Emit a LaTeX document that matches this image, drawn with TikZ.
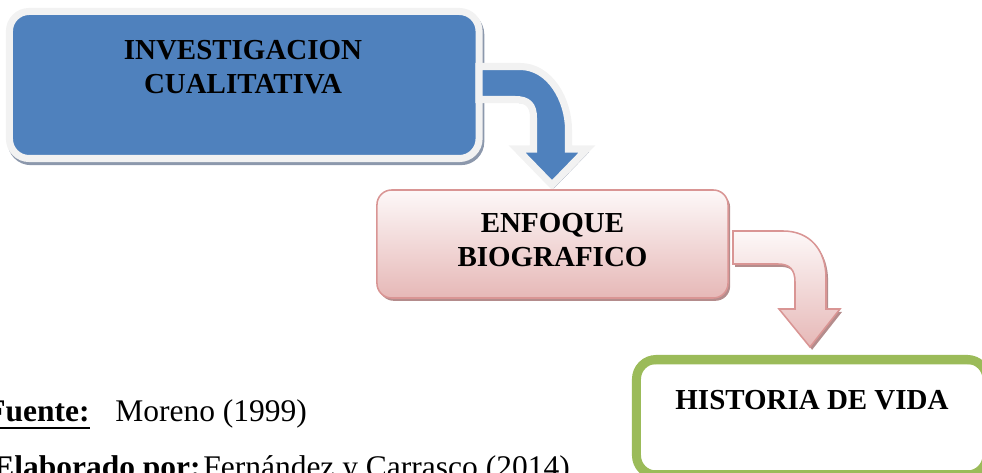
\documentclass[tikz,border=0pt]{standalone}
\usepackage{fontspec}
\setmainfont{Liberation Serif}
\usetikzlibrary{positioning,calc}

\definecolor{azulcaja}{RGB}{79,129,189}
\definecolor{bordeblanco}{RGB}{242,242,242}
\definecolor{sombraazul}{RGB}{140,152,172}
\definecolor{linearosa}{RGB}{217,149,148}
\definecolor{rosaclaro}{RGB}{253,248,248}
\definecolor{rosaoscuro}{RGB}{230,184,183}
\definecolor{sombrarosa}{RGB}{180,140,140}
\definecolor{verdecaja}{RGB}{155,187,89}

\begin{document}
\begin{tikzpicture}[x=0.025cm, y=0.025cm,
    cajaazul/.style={rounded corners=14pt, inner sep=0pt, fill=azulcaja, draw=bordeblanco, line width=5pt,
      preaction={draw=sombraazul, fill=sombraazul, transform canvas={xshift=1.2pt, yshift=-2.2pt}}},
    flechaazul/.style={fill=azulcaja, draw=bordeblanco, line width=5pt,
      preaction={draw=sombraazul, fill=sombraazul, transform canvas={xshift=1.2pt, yshift=-2.2pt}}},
    cajarosa/.style={rounded corners=10.5pt, inner sep=0pt, draw=linearosa, line width=1.1pt,
      top color=rosaclaro, bottom color=rosaoscuro,
      preaction={fill=sombrarosa, transform canvas={xshift=1.5pt, yshift=-2pt}}},
    flecharosa/.style={draw=linearosa, line width=1.1pt, top color=rosaclaro, bottom color=rosaoscuro,
      preaction={fill=sombrarosa, transform canvas={xshift=1.5pt, yshift=-2pt}}},
    cajaverde/.style={rounded corners=14pt, inner sep=0pt, draw=verdecaja, line width=6.4pt, fill=white},
    textocaja/.style={inner sep=0pt, align=center, font=\fontsize{20.6pt}{24.2pt}\selectfont\bfseries},
    nota/.style={anchor=base west, inner sep=0pt, font=\fontsize{22.4pt}{26pt}\selectfont},
    notanegrita/.style={nota, font=\fontsize{22.4pt}{26pt}\selectfont\bfseries}]

  \path[use as bounding box, clip] (0,0) rectangle (982,473);

  % Investigacion cualitativa
  \node[cajaazul, minimum width=11.7375cm, minimum height=3.675cm] (inv) at (244.25,388) {};
  \node[textocaja, anchor=north] (invtxt) at (243,433) {INVESTIGACION\\CUALITATIVA};

  % Flecha azul
  \draw[flechaazul] (479,406.5) -- (520,406.5) .. controls (550,406.5) and (568.5,373) .. (568.5,343)
    -- (568.5,324) -- (587,324) -- (552,288) -- (517,324) -- (533.5,324) -- (533.5,355)
    .. controls (533.5,368) and (528,373.5) .. (515,373.5) -- (479,373.5) -- cycle;

  % Enfoque biografico
  \node[cajarosa, minimum width=8.775cm, minimum height=2.7cm] (enf) at (552.5,229) {};
  \node[textocaja, anchor=north] (enftxt) at (552.5,260) {ENFOQUE\\BIOGRAFICO};

  % Flecha rosa
  \draw[flecharosa] (733,242) -- (783,242) .. controls (810,242) and (826,223) .. (826,195)
    -- (826,164) -- (840,164) -- (810,126) -- (779,164) -- (795,164) -- (795,191)
    .. controls (795,203) and (790,209) .. (778,209) -- (733,209) -- cycle;

  % Historia de vida
  \node[cajaverde, minimum width=8.7625cm, minimum height=2.8875cm] (hist) at (811.75,55.75) {};
  \draw[verdecaja, line width=1.4pt, rounded corners=9pt]
    ($(hist.north west)+(6.5,-8.5)$) rectangle ($(hist.south east)+(-6.5,8.5)$);
  \node[textocaja, anchor=base] (histtxt) at (812,63) {HISTORIA DE VIDA};

  % Fuente
  \node[notanegrita] (fuente) at (-14,51) {Fuente:};
  \draw[line width=2pt] ($(fuente.base west)+(0,-6)$) -- ($(fuente.base east)+(0,-6)$);
  \node[nota] (moreno) at (115,51) {Moreno (1999)};
  \node[notanegrita] (elab) at (-7,-4.5) {Elaborado por:};
  \node[nota] (autores) at (203,-4.5) {Fernández y Carrasco (2014)};
\end{tikzpicture}
\end{document}
